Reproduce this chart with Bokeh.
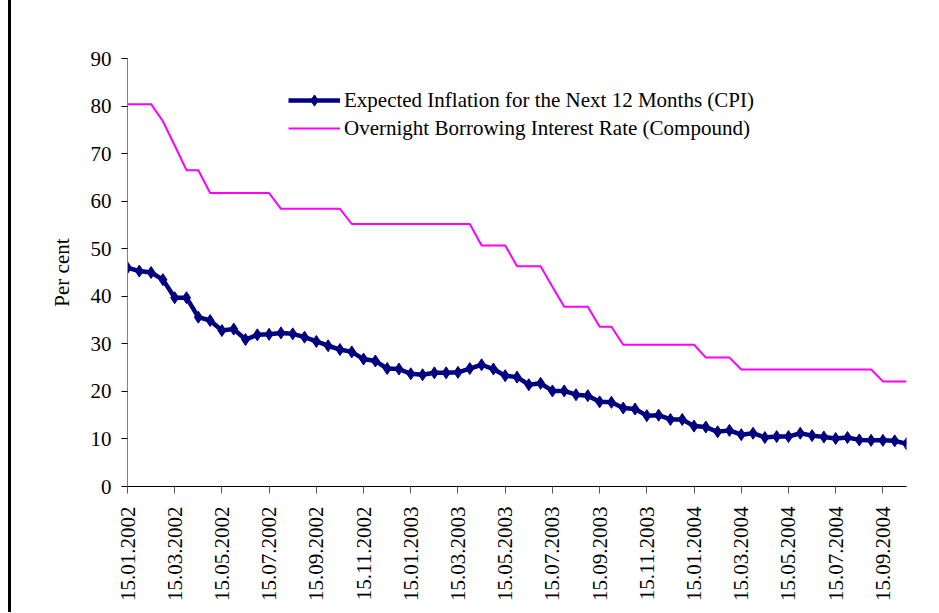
import math
from bokeh.plotting import figure
from bokeh.models import Range1d, FixedTicker, Legend, LegendItem
from bokeh.embed import file_html
from bokeh.resources import INLINE

# semi-monthly observations, index 0 = 15.01.2002
tick_labels = ["15.01.2002", "15.03.2002", "15.05.2002", "15.07.2002", "15.09.2002",
               "15.11.2002", "15.01.2003", "15.03.2003", "15.05.2003", "15.07.2003",
               "15.09.2003", "15.11.2003", "15.01.2004", "15.03.2004", "15.05.2004",
               "15.07.2004", "15.09.2004"]

expected_inflation = [46.0, 45.3, 45.0, 43.5, 39.7, 39.7, 35.6, 34.9, 32.8, 33.1,
                      30.9, 31.9, 32.0, 32.3, 32.1, 31.4, 30.5, 29.6, 28.8, 28.3,
                      26.8, 26.4, 24.8, 24.7, 23.7, 23.5, 23.9, 23.9, 24.0, 24.8,
                      25.6, 24.7, 23.3, 23.0, 21.4, 21.7, 20.1, 20.1, 19.3, 19.1,
                      17.8, 17.7, 16.5, 16.3, 14.9, 15.0, 14.1, 14.1, 12.7, 12.5,
                      11.5, 11.8, 10.9, 11.2, 10.3, 10.5, 10.5, 11.2, 10.7, 10.4,
                      10.1, 10.3, 9.8, 9.7, 9.7, 9.6, 9.0]

overnight_rate = [80.4, 80.4, 80.4, 76.8, 71.7, 66.5, 66.5,
                  61.7, 61.7, 61.7, 61.7, 61.7, 61.7,
                  58.4, 58.4, 58.4, 58.4, 58.4, 58.4,
                  55.2, 55.2, 55.2, 55.2, 55.2, 55.2, 55.2, 55.2, 55.2, 55.2, 55.2,
                  50.7, 50.7, 50.7,
                  46.3, 46.3, 46.3,
                  42.0,
                  37.8, 37.8, 37.8,
                  33.6, 33.6,
                  29.8, 29.8, 29.8, 29.8, 29.8, 29.8, 29.8,
                  27.1, 27.1, 27.1,
                  24.6, 24.6, 24.6, 24.6, 24.6, 24.6, 24.6, 24.6, 24.6, 24.6, 24.6, 24.6,
                  22.1, 22.1, 22.1]

y_ticks = [0, 10, 20, 30, 40, 50, 60, 70, 80, 90]
label_every = 4

x = list(range(len(expected_inflation)))
tick_pos = [i * label_every for i in range(len(tick_labels))]

FONT = "Liberation Serif"
FS = "21px"

p = figure(width=926, height=612, output_backend="svg", toolbar_location=None,
           x_range=Range1d(0, len(x) - 1), y_range=Range1d(0, 90),
           min_border_left=116, min_border_right=31, min_border_top=58,
           min_border_bottom=126)
p.styles = {"margin-left": "8px", "border-left": "3px solid black"}
p.outline_line_color = None
p.xgrid.visible = False
p.ygrid.visible = False
p.background_fill_color = "white"
p.border_fill_color = "white"

# y axis
p.yaxis.ticker = FixedTicker(ticks=y_ticks)
p.yaxis.axis_label = "Per cent"
p.yaxis.axis_label_text_font = FONT
p.yaxis.axis_label_text_font_size = FS
p.yaxis.axis_label_text_font_style = "normal"
p.yaxis.axis_label_text_color = "black"
p.yaxis.axis_label_standoff = 14
p.yaxis.major_label_text_font = FONT
p.yaxis.major_label_text_font_size = FS
p.yaxis.major_label_text_color = "black"
p.yaxis.major_label_standoff = 10
p.yaxis.major_tick_in = 0
p.yaxis.major_tick_out = 6
p.yaxis.minor_tick_line_color = None
p.yaxis.axis_line_color = "#808080"
p.yaxis.major_tick_line_color = "black"

# x axis
p.xaxis.ticker = FixedTicker(ticks=tick_pos)
p.xaxis.major_label_overrides = {pos: lab for pos, lab in zip(tick_pos, tick_labels)}
p.xaxis.major_label_orientation = math.pi / 2
p.xaxis.major_label_text_font = FONT
p.xaxis.major_label_text_font_size = FS
p.xaxis.major_label_text_color = "black"
p.xaxis.major_label_standoff = 13
p.xaxis.major_tick_in = 0
p.xaxis.major_tick_out = 7
p.xaxis.minor_tick_line_color = None
p.xaxis.axis_line_color = "black"
p.xaxis.major_tick_line_color = "#595959"

# series
r_pink = p.line(x, overnight_rate, line_color="#FF00FF", line_width=2)
r_blue = p.line(x, expected_inflation, line_color="#000080", line_width=4.5)
r_dia = p.scatter(x, expected_inflation, marker="diamond", size=12,
                  fill_color="#000080", line_color="#000080")

legend = Legend(items=[
    LegendItem(label="Expected Inflation for the Next 12 Months (CPI)", renderers=[r_blue, r_dia]),
    LegendItem(label="Overnight Borrowing Interest Rate (Compound)", renderers=[r_pink]),
], location=(161, 344))
legend.label_text_font = FONT
legend.label_text_font_size = FS
legend.label_text_color = "black"
legend.border_line_color = None
legend.background_fill_alpha = 0
legend.padding = 0
legend.margin = 0
legend.spacing = 0
legend.glyph_width = 52
legend.glyph_height = 28
legend.label_height = 28
legend.label_standoff = 4
p.add_layout(legend, "center")

open("out.html", "w").write(file_html(p, INLINE))
